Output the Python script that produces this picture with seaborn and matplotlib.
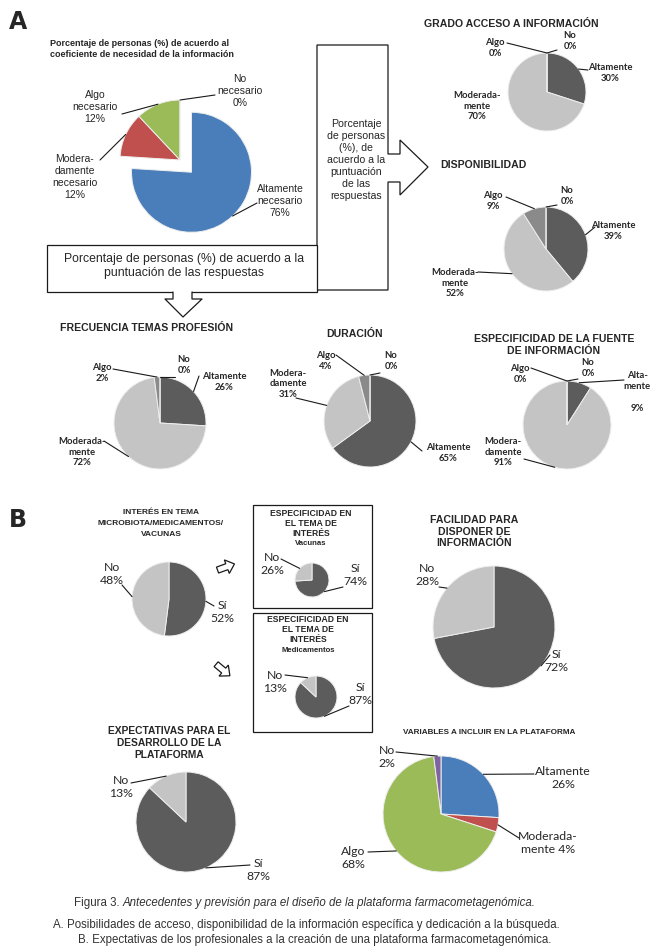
import numpy as np
import matplotlib
matplotlib.use("Agg")
import matplotlib.pyplot as plt
import seaborn as sns
from matplotlib.patches import Polygon, Rectangle
from matplotlib import font_manager

# ---- data ----
need_cats = ["Altamente\nnecesario", "Modera-\ndamente\nnecesario", "Algo\nnecesario", "No\nnecesario"]
need_vals = [76, 12, 12, 0]

scale_cats = ["Altamente", "Moderada-\nmente", "Algo", "No"]
acceso_vals = [30, 70, 0, 0]
disp_vals = [39, 52, 9, 0]
frec_vals = [26, 72, 2, 0]
dur_cats = ["Altamente", "Modera-\ndamente", "Algo", "No"]
dur_vals = [65, 31, 4, 0]
fuente_cats = ["Alta-\nmente\n", "Modera-\ndamente", "Algo", "No"]
fuente_vals = [9, 91, 0, 0]

yesno_cats = ["Sí", "No"]
interes_vals = [52, 48]
vacunas_vals = [74, 26]
medic_vals = [87, 13]
facilidad_vals = [72, 28]
expect_vals = [87, 13]

var_cats = ["Altamente", "Moderada-\nmente", "Algo", "No"]
var_vals = [26, 4, 68, 2]

# ---- style ----
sns.set_theme(style="white")
names = {f.name for f in font_manager.fontManager.ttflist}
NARROW = "Liberation Sans Narrow" if "Liberation Sans Narrow" in names else "DejaVu Sans"
plt.rcParams["font.family"] = ["Liberation Sans", "DejaVu Sans"]

BLUE, RED, GREEN, PURPLE = "#4a7ebb", "#c0504d", "#9bbb59", "#8064a2"
DARK, LIGHT, MID = "#5c5c5c", "#c4c4c4", "#8a8a8a"
LBL = ["Lato", "DejaVu Sans"]
ARIAL = ["Liberation Sans", "DejaVu Sans"]

W, H = 660, 949
fig = plt.figure(figsize=(W / 100, H / 100), dpi=100)
fig.patch.set_facecolor("white")

ov = fig.add_axes([0, 0, 1, 1], zorder=10)
ov.set_xlim(0, W)
ov.set_ylim(H, 0)
ov.axis("off")
ov.patch.set_alpha(0)

PAD = 1.4


def draw_pie(cx, cy, r, vals, colors, explode=None):
    R = r * PAD
    ax = fig.add_axes([(cx - R) / W, 1 - (cy + R) / H, 2 * R / W, 2 * R / H])
    ex = [e / PAD for e in explode] if explode else None
    ax.pie(vals, colors=colors, startangle=90, counterclock=False, radius=1 / PAD,
           explode=ex, wedgeprops=dict(edgecolor="#eeeeee", linewidth=0.7))
    ax.set_xlim(-1, 1)
    ax.set_ylim(-1, 1)
    ax.set_aspect("auto")
    ax.axis("off")


def edge_point(cx, cy, r, vals, i, explode=0):
    frac = (sum(vals[:i]) + vals[i] / 2) / sum(vals)
    th = np.deg2rad(90 - 360 * frac)
    rr = r * (1 + explode)
    return cx + rr * np.cos(th), cy - rr * np.sin(th)


def chart(cx, cy, r, vals, cats, colors, labels, size=6.8, family=LBL, weight="bold", explode=None):
    draw_pie(cx, cy, r, vals, colors, explode)
    for i, lab in enumerate(labels):
        if lab is None:
            continue
        tx, ty, start, sep = (list(lab) + ["\n"])[:4]
        ov.text(tx, ty, f"{cats[i]}{sep}{vals[i]}%", ha="center", va="center",
                fontsize=size, family=family, weight=weight, linespacing=1.25)
        if start is not None:
            e = explode[i] if explode else 0
            px, py = edge_point(cx, cy, r, vals, i, e)
            ov.plot([start[0], px], [start[1], py], color="#1a1a1a", lw=0.8)


def title(x, y, s, size=7.6, ha="center", ls=1.15):
    ov.text(x, y, s, ha=ha, va="center", fontsize=size, weight="bold",
            family=ARIAL, linespacing=ls)


def title_lines(x, ys, lines, sizes):
    for y, s, fs in zip(ys, lines, sizes):
        ov.text(x, y, s, ha="center", va="center", fontsize=fs, weight="bold", family=ARIAL)


# ---- panel letters ----
ov.text(9, 22, "A", fontsize=17, weight="bold", family=[NARROW, "DejaVu Sans"], va="center")
ov.text(9, 520, "B", fontsize=17, weight="bold", family=[NARROW, "DejaVu Sans"], va="center")

# ---- boxes and arrows (panel A) ----
vbox = Polygon([(317, 45), (388, 45), (388, 154), (400, 154), (400, 140), (428, 167),
                (400, 195), (400, 182), (388, 182), (388, 290), (317, 290)],
               closed=True, fc="white", ec="#1a1a1a", lw=0.9)
ov.add_patch(vbox)
ov.text(356, 160, "Porcentaje\nde personas\n(%), de\nacuerdo a la\npuntuación\nde las\nrespuestas",
        ha="center", va="center", fontsize=7.6, linespacing=1.25)
ov.add_patch(Rectangle((47, 245), 270, 47, fc="white", ec="#1a1a1a", lw=0.9))
ov.text(184, 266, "Porcentaje de personas (%) de acuerdo a la\npuntuación de las respuestas",
        ha="center", va="center", fontsize=8.8, linespacing=1.3)
# open down arrow joined to the box
arrow_pts = [(173, 292), (173, 299), (165, 299), (183, 317), (202, 299), (192, 299), (192, 292)]
ov.add_patch(Polygon(arrow_pts + [(192, 290), (173, 290)], closed=True, fc="white", ec="none"))
ov.plot(*zip(*arrow_pts), color="#1a1a1a", lw=0.9)

# ---- main pie ----
title(50, 49, "Porcentaje de personas (%) de acuerdo al\ncoeficiente de necesidad de la información",
      size=6.5, ha="left")
chart(180, 160, 60, need_vals, need_cats, [BLUE, RED, GREEN, PURPLE],
      [(280, 201, (257, 203)), (75, 177, (100, 160)), (95, 107, (122, 114)), (240, 91, (215, 95))],
      size=7.5, family=ARIAL, weight="normal", explode=[0.28, 0, 0, 0])

grays = [DARK, LIGHT, MID, MID]

title(511, 24, "GRADO ACCESO A INFORMACIÓN")
chart(547, 92, 39, acceso_vals, scale_cats, grays,
      [(610, 73, (588, 70)), (477, 106, None), (495, 48, (507, 43)), (570, 41, (557, 50))])

title(440, 165, "DISPONIBILIDAD", ha="left")
chart(546, 249, 42, disp_vals, scale_cats, grays,
      [(613, 231, (595, 227)), (455, 283, (478, 272)), (493, 201, (506, 197)), (567, 196, (557, 205))])

title(147, 328, "FRECUENCIA TEMAS PROFESIÓN")
chart(160, 423, 46, frec_vals, scale_cats, grays,
      [(224, 382, (199, 376)), (82, 452, (104, 441)), (102, 373, (113, 369)), (184, 365, (175, 377))])

title(355, 334, "DURACIÓN")
chart(370, 421, 46, dur_vals, dur_cats, grays,
      [(448, 453, (422, 451)), (288, 384, (296, 398)), (326, 361, (336, 355)), (391, 361, (380, 373))])

title(554, 345, "ESPECIFICIDAD DE LA FUENTE\nDE INFORMACIÓN")
chart(567, 425, 44, fuente_vals, fuente_cats, grays,
      [(637, 392, (624, 380)), (503, 452, (524, 459)), (520, 374, (531, 368)), (588, 368, (578, 379))])

# ---- panel B ----
yn = [DARK, LIGHT]
title_lines(161, [512, 523.5, 535], ["INTERÉS EN TEMA", "MICROBIOTA/MEDICAMENTOS/", "VACUNAS"],
            [6.0, 6.0, 6.0])
chart(169, 599, 37, interes_vals, yesno_cats, yn,
      [(222, 612, (214, 606)), (112, 574, (122, 585))], size=8.8, weight="normal")


def hollow_arrow(x, y, ang, s=10):
    pts = np.array([[-1.0, -0.35], [0.1, -0.35], [0.1, -0.8], [1.0, 0.0],
                    [0.1, 0.8], [0.1, 0.35], [-1.0, 0.35]])
    a = np.deg2rad(ang)
    rot = np.array([[np.cos(a), -np.sin(a)], [np.sin(a), np.cos(a)]])
    p = pts @ rot.T * s
    p[:, 1] *= -1
    ov.add_patch(Polygon(p + [x, y], closed=True, fc="white", ec="#1a1a1a", lw=0.9))


hollow_arrow(226, 567, 20, 9)
hollow_arrow(223, 670, -40, 9)

ov.add_patch(Rectangle((253, 505), 119, 103, fc="none", ec="#1a1a1a", lw=0.9))
title_lines(311, [513, 523, 533, 543.5], ["ESPECIFICIDAD EN", "EL TEMA DE", "INTERÉS", "Vacunas"],
            [6.2, 6.2, 6.2, 5.6])
chart(312, 580, 17, vacunas_vals, yesno_cats, yn,
      [(355, 575, (343, 587)), (272, 564, (281, 559))], size=8.8, weight="normal")

ov.add_patch(Rectangle((253, 613), 119, 119, fc="none", ec="#1a1a1a", lw=0.9))
title_lines(308, [619, 629, 639, 650], ["ESPECIFICIDAD EN", "EL TEMA DE", "INTERÉS", "Medicamentos"],
            [6.2, 6.2, 6.2, 5.6])
chart(316, 697, 21, medic_vals, yesno_cats, yn,
      [(360, 694, (349, 706)), (275, 682, (285, 675))], size=8.8, weight="normal")

title_lines(474, [520, 532, 543.5], ["FACILIDAD PARA", "DISPONER DE", "INFORMACIÓN"], [7.6] * 3)
chart(494, 627, 61, facilidad_vals, yesno_cats, yn,
      [(556, 661, (550, 655)), (427, 575, (439, 587))], size=8.8, weight="normal")

title_lines(169, [731, 743, 754.5], ["EXPECTATIVAS PARA EL", "DESARROLLO DE LA", "PLATAFORMA"], [7.4] * 3)
chart(186, 822, 50, expect_vals, yesno_cats, yn,
      [(258, 870, (250, 865)), (121, 787, (131, 783))], size=8.8, weight="normal")

title(489, 732, "VARIABLES A INCLUIR EN LA PLATAFORMA", size=5.9)
chart(441, 814, 58, var_vals, var_cats, [BLUE, RED, GREEN, PURPLE],
      [(563, 778, (534, 774)), (548, 843, (519, 838), " "), (353, 858, (368, 852)), (387, 757, (396, 752))],
      size=8.8, weight="normal")

# ---- caption ----
r = fig.canvas.get_renderer()
t1 = ov.text(74, 903, "Figura 3. ", fontsize=8.3, va="center", color="#333333")
w1 = t1.get_window_extent(r).width
ov.text(74 + w1, 903, "Antecedentes y previsión para el diseño de la plataforma farmacometagenómica.",
        fontsize=8.3, va="center", style="italic", color="#333333")
ov.text(53, 925, "A. Posibilidades de acceso, disponibilidad de la información específica y dedicación a la búsqueda.",
        fontsize=8.3, va="center", color="#333333")
ov.text(78, 940, "B. Expectativas de los profesionales a la creación de una plataforma farmacometagenómica.",
        fontsize=8.3, va="center", color="#333333")

fig.savefig("out.png", dpi=100, facecolor="white")
